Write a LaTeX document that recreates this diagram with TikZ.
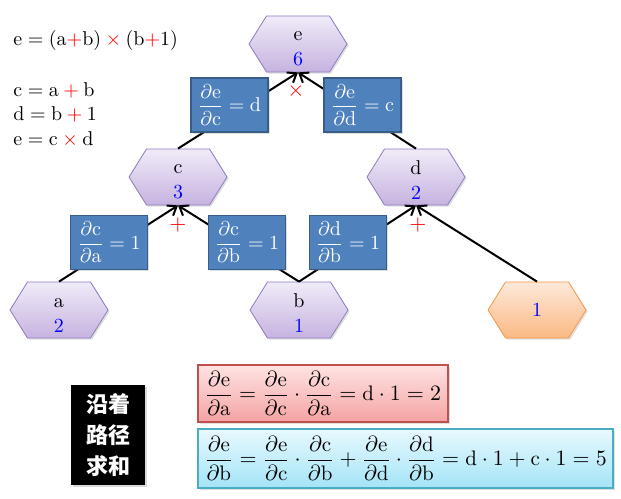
\documentclass[tikz,border=0pt]{standalone}
\usepackage{fontspec}
\newfontfamily\cjk{Noto Sans CJK SC}
\usetikzlibrary{shapes.symbols,arrows.meta,shadows}
\definecolor{hexTop}{HTML}{F0EBF8}
\definecolor{hexBot}{HTML}{C6B3E0}
\definecolor{hexLine}{HTML}{8E7CC3}
\definecolor{oneTop}{HTML}{FDE9D9}
\definecolor{oneBot}{HTML}{FBB984}
\definecolor{oneLine}{HTML}{F79646}
\definecolor{gradFill}{HTML}{4F81BD}
\definecolor{gradLine}{HTML}{385D8A}
\definecolor{numBlue}{HTML}{0000FF}
\definecolor{opRed}{HTML}{FF0000}
\definecolor{pinkTop}{HTML}{FFE3E3}
\definecolor{pinkBot}{HTML}{F4A3A3}
\definecolor{pinkLine}{HTML}{C0504D}
\definecolor{cyanTop}{HTML}{E8F9FE}
\definecolor{cyanBot}{HTML}{A3E4F7}
\definecolor{cyanLine}{HTML}{4BACC6}
\usepackage{amsmath}
\newcommand{\pd}[2]{\dfrac{\partial\mathrm{#1}}{\partial\mathrm{#2}}}
\newcommand{\rop}[1]{\mathbin{\color{opRed}#1}}
\newcommand{\hexlabel}[2]{\rule{0pt}{9.5pt}#1\\\textcolor{numBlue}{#2}}
\tikzset{
  hexnode/.style={shape=signal, signal to=east and west, signal pointer angle=116,
    minimum width=49pt, minimum height=28pt, inner sep=0pt, align=center,
    draw=hexLine, top color=hexTop, bottom color=hexBot,
    font=\fontsize{10}{12.5}\selectfont,
    drop shadow={opacity=0.25, shadow xshift=0.8pt, shadow yshift=-0.8pt}},
  onenode/.style={hexnode, draw=oneLine, top color=oneTop, bottom color=oneBot},
  gradbox/.style={draw=gradLine, fill=gradFill, text=white, line width=0.7pt,
    minimum width=38.5pt, minimum height=27pt, inner sep=1pt,
    drop shadow={opacity=0.25, shadow xshift=0.8pt, shadow yshift=-0.8pt}},
  sumbox/.style={line width=0.6pt, inner sep=2pt, font=\fontsize{10.5}{12.5}\selectfont,
    drop shadow={opacity=0.25, shadow xshift=0.8pt, shadow yshift=-0.8pt}},
  opsign/.style={text=opRed, inner sep=0pt, font=\fontsize{11}{13}\selectfont},
  edge/.style={->, line width=1pt},
}
\begin{document}
\begin{tikzpicture}[x=0.5pt,y=-0.5pt,>={Straight Barb[length=4pt,width=6pt]}]
  \useasboundingbox (0,0) rectangle (621,498);
  % equations
  \node[anchor=west,inner sep=0pt] (eqall) at (13,41)
    {$\mathrm{e}=(\mathrm{a}{\color{opRed}+}\mathrm{b})\rop{\times}(\mathrm{b}{\color{opRed}+}1)$};
  \node[anchor=west,inner sep=0pt] (eqc) at (13,90)
    {$\mathrm{c}=\mathrm{a}\rop{+}\mathrm{b}$};
  \node[anchor=west,inner sep=0pt] (eqd) at (13,114)
    {$\mathrm{d}=\mathrm{b}\rop{+}1$};
  \node[anchor=west,inner sep=0pt] (eqe) at (13,139)
    {$\mathrm{e}=\mathrm{c}\rop{\times}\mathrm{d}$};

  % graph
  \node[hexnode] (e) at (298,44) {\hexlabel{e}{6}};
  \node[hexnode] (c) at (178,177) {\hexlabel{c}{3}};
  \node[hexnode] (d) at (416,177) {\hexlabel{d}{2}};
  \node[hexnode] (a) at (59,310) {\hexlabel{a}{2}};
  \node[hexnode] (b) at (299,310) {\hexlabel{b}{1}};
  \node[onenode] (one) at (537,310) {\textcolor{numBlue}{1}};

  \draw[edge] (a.north) -- (c.south);
  \draw[edge] (b.north) -- (c.south);
  \draw[edge] (b.north) -- (d.south);
  \draw[edge] (one.north) -- (d.south);
  \draw[edge] (c.north) -- (e.south);
  \draw[edge] (d.north) -- (e.south);

  \node[opsign] (times) at (296,91) {$\times$};
  \node[opsign] (plusc) at (178,225) {$+$};
  \node[opsign] (plusd) at (418,225) {$+$};

  % partial derivatives on the edges
  \node[gradbox] (dedc) at (229.5,105) {$\pd{e}{c}=\mathrm{d}$};
  \node[gradbox] (dedd) at (362.5,105) {$\pd{e}{d}=\mathrm{c}$};
  \node[gradbox] (dcda) at (109,242.5) {$\pd{c}{a}=1$};
  \node[gradbox] (dcdb) at (247,242.5) {$\pd{c}{b}=1$};
  \node[gradbox] (dddb) at (348,242.5) {$\pd{d}{b}=1$};

  % sums along the paths
  \node[fill=black, text=white, minimum width=37pt, minimum height=50pt, align=center,
    font=\cjk\bfseries\fontsize{11}{15.5}\selectfont,
    drop shadow={opacity=0.3, shadow xshift=1pt, shadow yshift=-1pt}]
    (rule) at (108,435) {沿着\\路径\\求和};
  \node[sumbox, draw=pinkLine, top color=pinkTop, bottom color=pinkBot,
    minimum width=125pt, minimum height=28.5pt] (suma) at (323,393.5)
    {$\pd{e}{a}=\pd{e}{c}\cdot\pd{c}{a}=\mathrm{d}\cdot 1=2$};
  \node[sumbox, draw=cyanLine, top color=cyanTop, bottom color=cyanBot,
    minimum width=207.5pt, minimum height=29.5pt] (sumb) at (405.5,458.5)
    {$\pd{e}{b}=\pd{e}{c}\cdot\pd{c}{b}+\pd{e}{d}\cdot\pd{d}{b}=\mathrm{d}\cdot 1+\mathrm{c}\cdot 1=5$};
\end{tikzpicture}
\end{document}
